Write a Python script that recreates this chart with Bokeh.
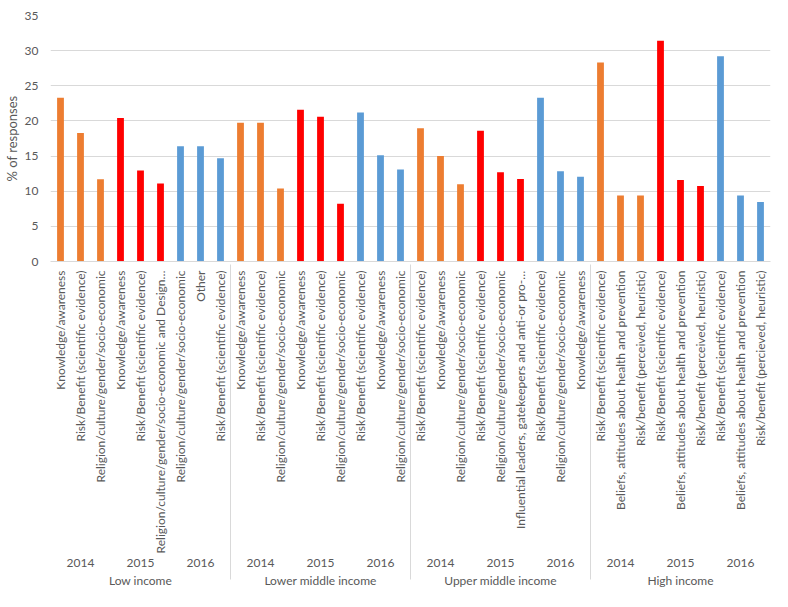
import math
from bokeh.plotting import figure
from bokeh.models import FactorRange, ColumnDataSource
from bokeh.embed import file_html
from bokeh.resources import INLINE

income_groups = ["Low income", "Lower middle income", "Upper middle income", "High income"]
years = ["2014", "2015", "2016"]
year_colors = {"2014": "#ED7D31", "2015": "#FF0000", "2016": "#5B9BD5"}

# categories per (income group, year), in order
categories = [
    # Low income
    ["Knowledge/awareness", "Risk/Benefit (scientific evidence)", "Religion/culture/gender/socio-economic"],
    ["Knowledge/awareness", "Risk/Benefit (scientific evidence)", "Religion/culture/gender/socio-economic and Design\u2026"],
    ["Religion/culture/gender/socio-economic", "Other", "Risk/Benefit (scientific evidence)"],
    # Lower middle income
    ["Knowledge/awareness", "Risk/Benefit (scientific evidence)", "Religion/culture/gender/socio-economic"],
    ["Knowledge/awareness", "Risk/Benefit (scientific evidence)", "Religion/culture/gender/socio-economic"],
    ["Risk/Benefit (scientific evidence)", "Knowledge/awareness", "Religion/culture/gender/socio-economic"],
    # Upper middle income
    ["Risk/Benefit (scientific evidence)", "Knowledge/awareness", "Religion/culture/gender/socio-economic"],
    ["Risk/Benefit (scientific evidence)", "Religion/culture/gender/socio-economic", "Influential leaders, gatekeepers and anti-or pro-\u2026"],
    ["Risk/Benefit (scientific evidence)", "Religion/culture/gender/socio-economic", "Knowledge/awareness"],
    # High income
    ["Risk/Benefit (scientific evidence)", "Beliefs, attitudes about health and prevention", "Risk/benefit (perceived, heuristic)"],
    ["Risk/Benefit (scientific evidence)", "Beliefs, attitudes about health and prevention", "Risk/benefit (perceived, heuristic)"],
    ["Risk/Benefit (scientific evidence)", "Beliefs, attitudes about health and prevention", "Risk/benefit (percieved, heuristic)"],
]

values = [
    [23.3, 18.3, 11.7],
    [20.4, 12.95, 11.1],
    [16.4, 16.4, 14.7],
    [19.75, 19.75, 10.4],
    [21.6, 20.6, 8.2],
    [21.2, 15.1, 13.1],
    [18.95, 15.0, 11.0],
    [18.6, 12.7, 11.75],
    [23.3, 12.85, 12.05],
    [28.3, 9.4, 9.4],
    [31.4, 11.6, 10.75],
    [29.2, 9.4, 8.45],
]

y_ticks = [0, 5, 10, 15, 20, 25, 30, 35]

factors, vals, colors = [], [], []
i = 0
for inc in income_groups:
    for yr in years:
        for cat, v in zip(categories[i], values[i]):
            factors.append((inc, yr, cat))
            vals.append(v)
            colors.append(year_colors[yr])
        i += 1

source = ColumnDataSource(data=dict(x=factors, top=vals, color=colors))

FONT = "Lato"
TXT = "#595959"

p = figure(
    x_range=FactorRange(*factors, factor_padding=0, subgroup_padding=0, group_padding=0, range_padding=0),
    y_range=(y_ticks[0], y_ticks[-1]),
    width=772, height=591,
    output_backend="svg", toolbar_location=None,
    min_border_top=15, min_border_right=2, min_border_left=0, min_border_bottom=0,
)
p.outline_line_color = None

p.vbar(x="x", top="top", width=0.34, color="color", source=source, line_color=None)

p.xgrid.grid_line_color = None
p.ygrid.grid_line_color = "#D9D9D9"
p.ygrid.grid_line_width = 1

p.yaxis.ticker = y_ticks
p.yaxis.axis_line_color = None
p.yaxis.major_tick_line_color = None
p.yaxis.minor_tick_line_color = None
p.yaxis.major_label_text_font = FONT
p.yaxis.major_label_text_font_size = "12px"
p.yaxis.major_label_text_color = TXT
p.yaxis.major_label_standoff = 6
p.yaxis.axis_label = "% of responses"
p.yaxis.axis_label_text_font = FONT
p.yaxis.axis_label_text_font_size = "13px"
p.yaxis.axis_label_text_font_style = "normal"
p.yaxis.axis_label_text_color = TXT
p.yaxis.axis_label_standoff = 2

xa = p.xaxis[0]
xa.axis_line_color = "#D9D9D9"
xa.major_tick_line_color = None
xa.minor_tick_line_color = None
xa.major_label_orientation = math.pi / 2
xa.major_label_standoff = 3
xa.major_label_text_font = FONT
xa.major_label_text_font_size = "12px"
xa.major_label_text_color = TXT
xa.subgroup_text_font = FONT
xa.subgroup_text_font_size = "12px"
xa.subgroup_text_color = TXT
xa.subgroup_text_font_style = "normal"
xa.group_text_font = FONT
xa.group_text_font_size = "12px"
xa.group_text_color = TXT
xa.group_text_font_style = "normal"
xa.separator_line_color = "#D9D9D9"
xa.separator_line_width = 1

open("out.html", "w").write(file_html(p, INLINE))
